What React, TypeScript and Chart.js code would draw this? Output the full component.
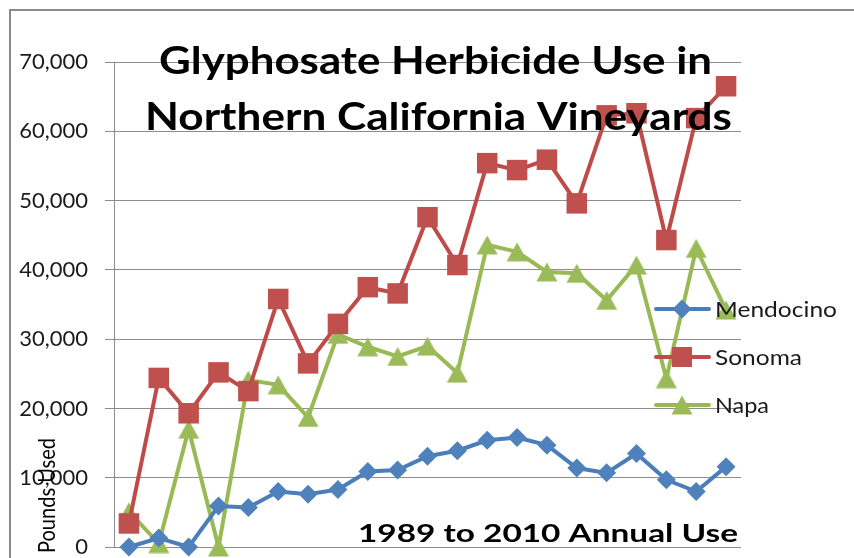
import React, { useEffect, useRef } from "react";
import { Chart, registerables } from "chart.js";

Chart.register(...registerables);

const years = ["1990","1991","1992","1993","1994","1995","1996","1997","1998","1999","2000","2001","2002","2003","2004","2005","2006","2007","2008","2009","2010"];
const mendocino = [0, 1300, 0, 5900, 5700, 8000, 7600, 8300, 10900, 11100, 13100, 13900, 15400, 15800, 14700, 11400, 10700, 13500, 9700, 8000, 11600];
const sonoma = [3400, 24400, 19300, 25200, 22500, 35800, 26500, 32200, 37500, 36600, 47600, 40700, 55400, 54400, 55900, 49600, 62300, 62600, 44300, 61900, 66500];
const napa = [5100, 500, 17000, 0, 24100, 23400, 18700, 30700, 28900, 27500, 29000, 25100, 43600, 42600, 39700, 39500, 35600, 40700, 24300, 43100, 34200];
const seriesNames = ["Mendocino", "Sonoma", "Napa"];
const titleLines = ["Glyphosate Herbicide Use in", "Northern California Vineyards"];
const xTitle = "1989 to 2010 Annual Use";
const yTitle = "Pounds Used";

const BLUE = "#4A7EBB";
const BLUE_F = "#4F81BD";
const RED = "#BE4B48";
const RED_F = "#C0504D";
const GREEN = "#98B954";
const GREEN_F = "#9BBB59";

function fitText(ctx: CanvasRenderingContext2D, text: string, left: number, baseline: number, width: number, font: string, color: string) {
  ctx.save();
  ctx.font = font;
  ctx.fillStyle = color;
  ctx.textAlign = "left";
  ctx.textBaseline = "alphabetic";
  const m = ctx.measureText(text).width;
  ctx.translate(left, baseline);
  ctx.scale(width / m, 1);
  ctx.fillText(text, 0, 0);
  ctx.restore();
}

function drawMarker(ctx: CanvasRenderingContext2D, kind: string, x: number, y: number, color: string) {
  ctx.save();
  ctx.fillStyle = color;
  ctx.beginPath();
  if (kind === "diamond") {
    ctx.moveTo(x, y - 9.5);
    ctx.lineTo(x + 9.5, y);
    ctx.lineTo(x, y + 9.5);
    ctx.lineTo(x - 9.5, y);
  } else if (kind === "square") {
    ctx.rect(x - 10, y - 10, 20, 20);
  } else {
    ctx.moveTo(x, y - 9.5);
    ctx.lineTo(x + 10.5, y + 9.5);
    ctx.lineTo(x - 10.5, y + 9.5);
  }
  ctx.closePath();
  ctx.fill();
  ctx.restore();
}

function makeTriangle(): HTMLCanvasElement {
  const c = document.createElement("canvas");
  c.width = 22;
  c.height = 20;
  const g = c.getContext("2d")!;
  g.fillStyle = GREEN_F;
  g.beginPath();
  g.moveTo(11, 0.5);
  g.lineTo(21.5, 19.5);
  g.lineTo(0.5, 19.5);
  g.closePath();
  g.fill();
  return c;
}

const decorPlugin = {
  id: "decor",
  beforeDraw(chart: any) {
    const ctx = chart.ctx as CanvasRenderingContext2D;
    ctx.save();
    ctx.fillStyle = "#ffffff";
    ctx.fillRect(0, 0, chart.width, chart.height);
    ctx.strokeStyle = "#8a8a8a";
    ctx.lineWidth = 2;
    ctx.strokeRect(10, 10, 900, 600);
    ctx.restore();
  },
  afterDraw(chart: any) {
    const ctx = chart.ctx as CanvasRenderingContext2D;
    fitText(ctx, titleLines[0], 159, 74, 553, "bold 38px Lato", "#000");
    fitText(ctx, titleLines[1], 145, 130, 587, "bold 38px Lato", "#000");
    fitText(ctx, xTitle, 358, 542, 380, "bold 24px Lato", "#000");
    ctx.save();
    ctx.translate(55, 553);
    ctx.rotate(-Math.PI / 2);
    fitText(ctx, yTitle, 0, 0, 115, "23px Lato", "#000");
    ctx.restore();
    const rows = [
      { name: seriesNames[0], color: BLUE, fill: BLUE_F, kind: "diamond", y: 309, w: 122 },
      { name: seriesNames[1], color: RED, fill: RED_F, kind: "square", y: 357, w: 87 },
      { name: seriesNames[2], color: GREEN, fill: GREEN_F, kind: "triangle", y: 405, w: 54 },
    ];
    for (const r of rows) {
      ctx.save();
      ctx.strokeStyle = r.color;
      ctx.lineWidth = 4;
      ctx.lineCap = "round";
      ctx.beginPath();
      ctx.moveTo(656, r.y);
      ctx.lineTo(709, r.y);
      ctx.stroke();
      ctx.restore();
      drawMarker(ctx, r.kind, 682, r.y, r.fill);
      fitText(ctx, r.name, 715, r.y + 8, r.w, "22px Lato", "#1a1a1a");
    }
  },
};

export default function App() {
  const ref = useRef<HTMLCanvasElement | null>(null);
  useEffect(() => {
    if (!ref.current) return;
    const tri = makeTriangle();
    const chart = new Chart(ref.current, {
      type: "line",
      data: {
        labels: years,
        datasets: [
          {
            label: seriesNames[0],
            data: mendocino,
            borderColor: BLUE,
            backgroundColor: BLUE_F,
            borderWidth: 4,
            pointStyle: "rectRot",
            pointRadius: 9.5,
            pointBorderWidth: 0,
            pointBackgroundColor: BLUE_F,
            tension: 0,
            clip: false as any,
          },
          {
            label: seriesNames[1],
            data: sonoma,
            borderColor: RED,
            backgroundColor: RED_F,
            borderWidth: 4,
            pointStyle: "rect",
            pointRadius: 14.5,
            pointBorderWidth: 0,
            pointBackgroundColor: RED_F,
            tension: 0,
            clip: false as any,
          },
          {
            label: seriesNames[2],
            data: napa,
            borderColor: GREEN,
            backgroundColor: GREEN_F,
            borderWidth: 4,
            pointStyle: tri as any,
            pointRadius: 10,
            pointBorderWidth: 0,
            tension: 0,
            clip: false as any,
          },
        ],
      },
      options: {
        responsive: false,
        animation: false,
        events: [],
        layout: { autoPadding: false, padding: { top: 62, right: 113, bottom: 11, left: 0 } },
        plugins: {
          legend: { display: false },
          title: { display: false },
          tooltip: { enabled: false },
        },
        scales: {
          x: {
            display: false,
            offset: true,
          },
          y: {
            min: 0,
            max: 70000,
            ticks: {
              stepSize: 10000,
              padding: 17,
              color: "#1a1a1a",
              font: { family: "Lato", size: 22, lineHeight: 0.5 },
              callback: (v: any) => Number(v).toLocaleString("en-US"),
            },
            grid: {
              color: "#8c8c8c",
              lineWidth: 1,
              tickLength: 9,
              drawTicks: true,
            },
            border: { display: true, color: "#8c8c8c", width: 1 },
            afterFit: (s: any) => {
              s.width = 114;
              s.paddingTop = 0;
              s.paddingBottom = 0;
            },
          },
        },
      },
      plugins: [decorPlugin],
    });
    return () => chart.destroy();
  }, []);
  return (
    <div style={{ position: "fixed", left: 0, top: 0, width: 854, height: 558 }}>
      <canvas ref={ref} width={854} height={558} style={{ display: "block" }} />
    </div>
  );
}
